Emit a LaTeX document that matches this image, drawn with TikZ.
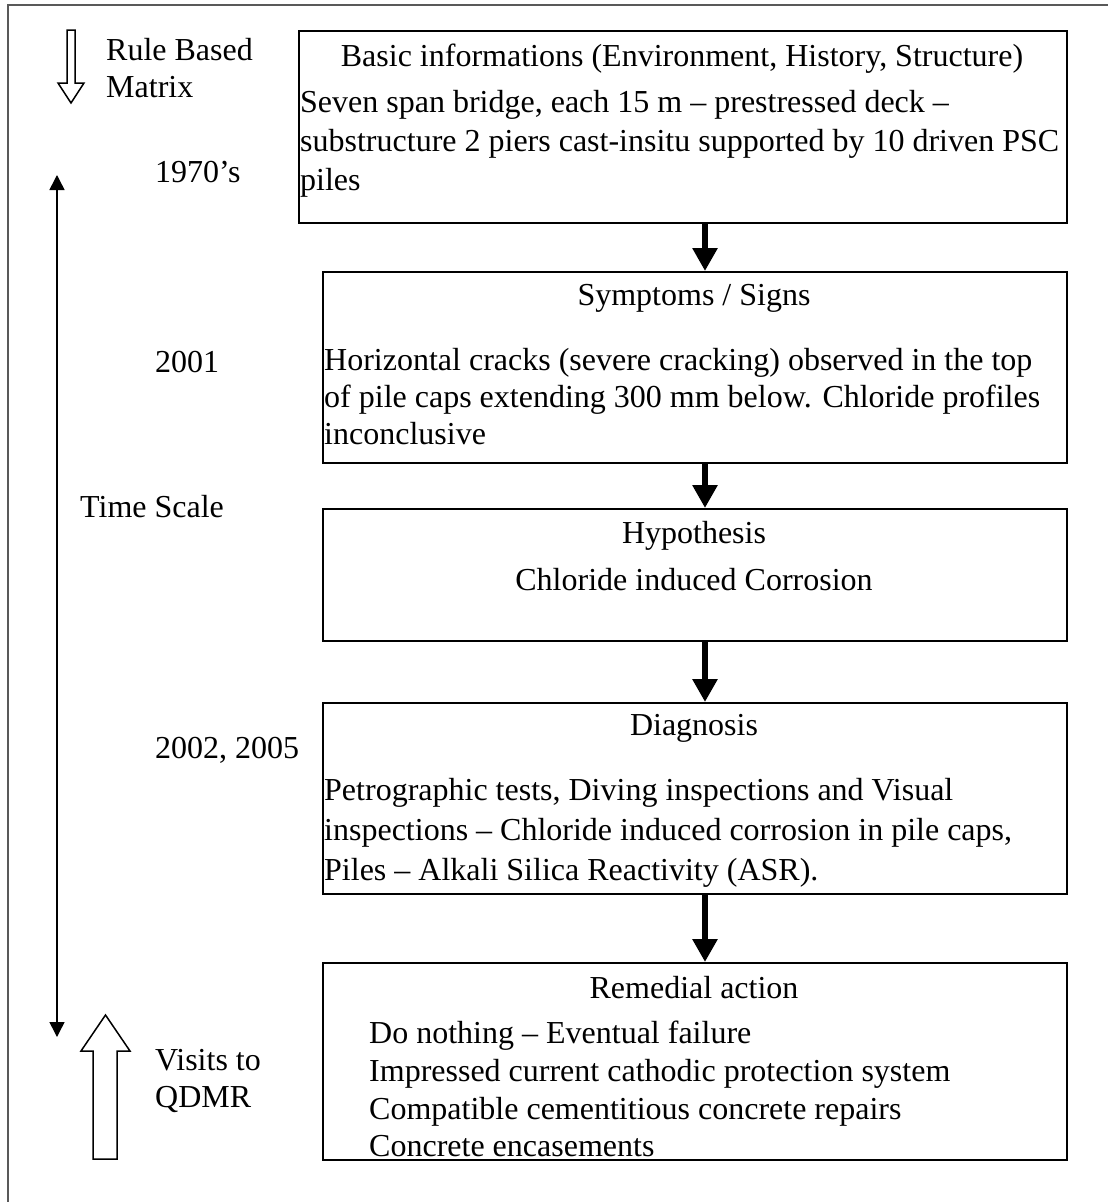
\documentclass[tikz,border=0pt]{standalone}
\usepackage{fontspec}
\setmainfont{Liberation Serif}
\usetikzlibrary{arrows.meta}
\begin{document}
\begin{tikzpicture}[x=1pt,y=-1pt,
  box/.style={draw, line width=1.7pt, anchor=north west, inner sep=0pt},
  txt/.style={inner sep=0pt, font=\fontsize{32}{37}\selectfont},
  bigarrow/.style={line width=6pt, -{Triangle[width=24pt,length=23pt]}},
  timearrow/.style={line width=1.5pt, {Triangle[width=15pt,length=15pt]}-{Triangle[width=15pt,length=15pt]}},
  hollow/.style={draw, line width=1.5pt, fill=white, line join=miter}]
\useasboundingbox (0,0) rectangle (1108,1202);
% outer frame
\draw[black!65, line width=1.3pt] (8,1210) -- (8,5) -- (1115,5);

% boxes
\node[box, minimum width=768pt, minimum height=192pt] (b1) at (298,30) {};
\node[box, minimum width=744pt, minimum height=191pt] (b2) at (322,271) {};
\node[box, minimum width=744pt, minimum height=132pt] (b3) at (322,508) {};
\node[box, minimum width=744pt, minimum height=191pt] (b4) at (322,702) {};
\node[box, minimum width=744pt, minimum height=197pt] (b5) at (322,962) {};

% connectors
\coordinate (ax) at (705,0);
\draw[bigarrow] (b1.south -| ax) -- (b2.north -| ax);
\draw[bigarrow] (b2.south -| ax) -- (b3.north -| ax);
\draw[bigarrow] (b3.south -| ax) -- (b4.north -| ax);
\draw[bigarrow] (b4.south -| ax) -- (b5.north -| ax);

% box 1
\node[txt, anchor=base] (t1) at (682,66) {Basic informations (Environment, History, Structure)};
\node[txt, anchor=base west] (t1a) at (300,112) {Seven span bridge, each 15 m – prestressed deck –};
\node[txt, anchor=base west] (t1b) at (300,151) {substructure 2 piers cast-insitu supported by 10 driven PSC};
\node[txt, anchor=base west] (t1c) at (300,190) {piles};
% box 2
\node[txt, anchor=base] (t2) at (694,305) {Symptoms / Signs};
\node[txt, anchor=base west] (t2a) at (324,370) {Horizontal cracks (severe cracking) observed in the top};
\node[txt, anchor=base west] (t2b) at (324,407) {of pile caps extending 300 mm below. Chloride profiles};
\node[txt, anchor=base west] (t2c) at (324,444) {inconclusive};
% box 3
\node[txt, anchor=base] (t3) at (694,543) {Hypothesis};
\node[txt, anchor=base] (t3a) at (694,590) {Chloride induced Corrosion};
% box 4
\node[txt, anchor=base] (t4) at (694,735) {Diagnosis};
\node[txt, anchor=base west] (t4a) at (324,800) {Petrographic tests, Diving inspections and Visual};
\node[txt, anchor=base west] (t4b) at (324,840) {inspections – Chloride induced corrosion in pile caps,};
\node[txt, anchor=base west] (t4c) at (324,880) {Piles – Alkali Silica Reactivity (ASR).};
% box 5
\node[txt, anchor=base] (t5) at (694,998) {Remedial action};
\node[txt, anchor=base west] (t5a) at (369,1043) {Do nothing – Eventual failure};
\node[txt, anchor=base west] (t5b) at (369,1081) {Impressed current cathodic protection system};
\node[txt, anchor=base west] (t5c) at (369,1119) {Compatible cementitious concrete repairs};
\node[txt, anchor=base west] (t5d) at (369,1156) {Concrete encasements};

% left side
\draw[hollow] (67,30) -- (75,30) -- (75,83) -- (84,83) -- (71,103) -- (58,83) -- (67,83) -- cycle;
\node[txt, anchor=base west] (rb1) at (106,60) {Rule Based};
\node[txt, anchor=base west] (rb2) at (106,97) {Matrix};
\coordinate (tstop) at (57,175);
\coordinate (tsbot) at (57,1037);
\draw[timearrow] (tstop) -- (tsbot);
\node[txt, anchor=base west] (y1) at (155,182) {1970’s};
\node[txt, anchor=base west] (y2) at (155,372) {2001};
\node[txt, anchor=base west] (ts) at (80,517) {Time Scale};
\node[txt, anchor=base west] (y3) at (155,758) {2002, 2005};
\draw[hollow] (93,1159) -- (117,1159) -- (117,1051) -- (130,1051) -- (105.5,1015) -- (81,1051) -- (93,1051) -- cycle;
\node[txt, anchor=base west] (v1) at (155,1070) {Visits to};
\node[txt, anchor=base west] (v2) at (155,1107) {QDMR};
\end{tikzpicture}
\end{document}
